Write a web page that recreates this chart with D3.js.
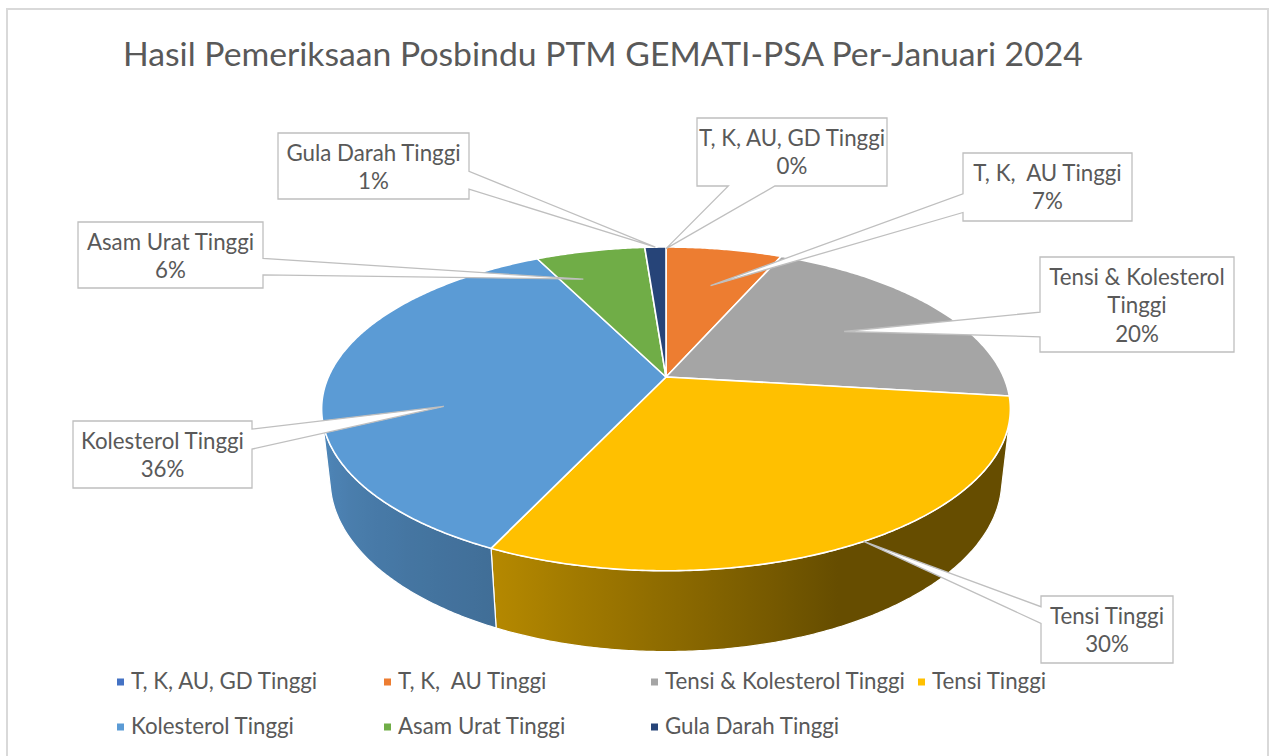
<!DOCTYPE html>
<html><head><meta charset="utf-8">
<script src="https://cdn.jsdelivr.net/npm/d3@7"></script>
<style>body{margin:0;background:#fff;} svg{display:block;}</style>
</head><body>
<svg id="chart" width="1273" height="756"></svg>
<script>
// ---- data ----
const title = "Hasil Pemeriksaan Posbindu PTM GEMATI-PSA Per-Januari 2024";
const categories = ["T, K, AU, GD Tinggi","T, K,  AU Tinggi","Tensi & Kolesterol Tinggi","Tensi Tinggi","Kolesterol Tinggi","Asam Urat Tinggi","Gula Darah Tinggi"];
const values = [0, 6.6, 20.3, 30.1, 35.6, 6.2, 1.2];
const colors = ["#4472C4","#ED7D31","#A5A5A5","#FFC000","#5B9BD5","#70AD47","#264478"];
const calloutLines = [["T, K, AU, GD Tinggi"],["T, K,  AU Tinggi"],["Tensi & Kolesterol","Tinggi"],["Tensi Tinggi"],["Kolesterol Tinggi"],["Asam Urat Tinggi"],["Gula Darah Tinggi"]];

// ---- layout ----
const callouts = [
  {box:[697,118,887,186], side:"bottom", base:[0.165,0.41], tip:[0,0.985]},
  {box:[963,153,1132,221], side:"left", base:[0.6,0.875], tip:[0.8,0.68]},
  {box:[1040,257,1234,352], side:"left", base:[0.58,0.84], tip:[0.7,0.64]},
  {box:[1041,596,1173,663], side:"left", base:[0.16,0.41], tip:[0,1.0]},
  {box:[73,421,252,488], side:"right", base:[0.12,0.42], tip:[-15.3,0.66]},
  {box:[78,222,263,288], side:"right", base:[0.55,0.8], tip:[-5.8,0.77]},
  {box:[278,133,469,199], side:"right", base:[0.58,0.85], tip:[0,1.0]}
];
const FONT = "Lato, 'Open Sans', sans-serif";
const TXT = "#595959";
const svg = d3.select("#chart");
const rad = d => d*Math.PI/180;

// frame
svg.append("rect").attr("x",7).attr("y",9).attr("width",1261).attr("height",800)
  .attr("fill","#fff").attr("stroke","#D9D9D9").attr("stroke-width",2);

function measure(txt, size, weight){
  const t = svg.append("text").attr("font-family",FONT).attr("font-size",size)
    .attr("font-weight",weight||400).style("white-space","pre").text(txt);
  const w = t.node().getComputedTextLength(); t.remove(); return w;
}
const titleSize = 100*960/measure(title,100,400);
const labelSize = 100*240/measure("Tensi & Kolesterol Tinggi",100);

// ---- projection (perspective 3D disc) ----
const P = {cx:666, cy:377, F:1521, d:4.505, th:rad(27.44), h:0.239};
const sT = Math.sin(P.th), cT = Math.cos(P.th);
function project(phi, r, y){
  const u = r*Math.sin(phi), v = -r*Math.cos(phi);
  const z = P.d - y*sT - v*cT;
  return [P.cx + P.F*u/z, P.cy + P.F*(v*sT - y*cT)/z];
}
const visMin = Math.acos(-1/(P.d*cT)), visMax = 2*Math.PI - visMin;

const pie = d3.pie().sort(null).value(d=>d);
const arcs = pie(values);
const total = d3.sum(values);
const pct = d3.format(".0%");
const color = d3.scaleOrdinal().domain(categories).range(colors);
const shade = d3.scaleLinear().domain([100,155,205,260].map(rad)).range([0.40,0.40,0.71,0.88]).clamp(true);
const line = d3.line();
const defs = svg.append("defs");

function sampleArc(a0, a1, r, y){
  const n = Math.max(2, Math.ceil((a1-a0)/rad(0.5)));
  return d3.range(n+1).map(i => project(a0 + (a1-a0)*i/n, r, y));
}

// sides
const gSide = svg.append("g");
arcs.forEach((a,i) => {
  const s0 = Math.max(a.startAngle, visMin), s1 = Math.min(a.endAngle, visMax);
  if (s1 <= s0) return;
  const top = sampleArc(s0, s1, 1, 0);
  const bot = sampleArc(s0, s1, 1, -P.h).reverse();
  const base = d3.rgb(color(categories[i]));
  const gid = "side"+i;
  const xa = project(s0,1,-P.h/2)[0], xb = project(s1,1,-P.h/2)[0];
  const grad = defs.append("linearGradient").attr("id",gid).attr("gradientUnits","userSpaceOnUse")
    .attr("x1",xa).attr("x2",xb).attr("y1",0).attr("y2",0);
  const N = 30;
  d3.range(N+1).forEach(k => {
    const phi = s0 + (s1-s0)*k/N;
    const x = project(phi,1,-P.h/2)[0];
    const f = shade(phi);
    grad.append("stop").attr("offset", (x-xa)/(xb-xa))
      .attr("stop-color", d3.rgb(base.r*f, base.g*f, base.b*f).formatHex());
  });
  gSide.append("path").attr("d", line(top.concat(bot))+"Z")
    .attr("fill","url(#"+gid+")").attr("stroke","#fff").attr("stroke-width",1.2).attr("stroke-linejoin","round");
});

// top faces
const gTop = svg.append("g");
arcs.forEach((a,i) => {
  if (a.endAngle - a.startAngle <= 0) return;
  const pts = [project(0,0,0)].concat(sampleArc(a.startAngle, a.endAngle, 1, 0));
  gTop.append("path").attr("d", line(pts)+"Z")
    .attr("fill", color(categories[i])).attr("stroke","#fff").attr("stroke-width",1.6).attr("stroke-linejoin","round");
});

// callouts
const gCall = svg.append("g");
arcs.forEach((a,i) => {
  const c = callouts[i];
  const [x0,y0,x1,y1] = c.box;
  const mid = (a.startAngle + a.endAngle)/2 + rad(c.tip[0]);
  const tip = project(mid, c.tip[1], 0);
  let pts;
  if (c.side === "right") {
    const ya = y0 + c.base[0]*(y1-y0), yb = y0 + c.base[1]*(y1-y0);
    pts = [[x0,y0],[x1,y0],[x1,ya],tip,[x1,yb],[x1,y1],[x0,y1]];
  } else if (c.side === "left") {
    const ya = y0 + c.base[0]*(y1-y0), yb = y0 + c.base[1]*(y1-y0);
    pts = [[x0,y0],[x1,y0],[x1,y1],[x0,y1],[x0,yb],tip,[x0,ya]];
  } else {
    const xa = x0 + c.base[0]*(x1-x0), xb = x0 + c.base[1]*(x1-x0);
    pts = [[x0,y0],[x1,y0],[x1,y1],[xb,y1],tip,[xa,y1],[x0,y1]];
  }
  gCall.append("path").attr("d", line(pts)+"Z").attr("fill","#fff")
    .attr("stroke","#BFBFBF").attr("stroke-width",1.3).attr("stroke-linejoin","miter");
  const lines = calloutLines[i].concat([pct(a.data/total)]);
  const t = gCall.append("text").attr("font-family",FONT).attr("font-size",labelSize)
    .attr("fill",TXT).attr("text-anchor","middle").style("white-space","pre");
  lines.forEach((L,k) => {
    t.append("tspan").attr("x",(x0+x1)/2).attr("y", y0 + 27.5 + k*28.5).text(L);
  });
});

// legend
const gLeg = svg.append("g");
categories.forEach((cat,i) => {
  const col = i % 4, row = Math.floor(i/4);
  const x = 117 + col*267, y = 682 + row*45;
  gLeg.append("rect").attr("x",x).attr("y",y-3.5).attr("width",7).attr("height",7).attr("fill",color(cat));
  gLeg.append("text").attr("x",x+14).attr("y",y+7).attr("font-family",FONT).attr("font-size",labelSize)
    .attr("fill",TXT).style("white-space","pre").text(cat);
});

// title
svg.append("text").attr("x",123).attr("y",66).attr("font-family",FONT).attr("font-size",titleSize)
  .attr("fill",TXT).text(title);
</script>
</body></html>
